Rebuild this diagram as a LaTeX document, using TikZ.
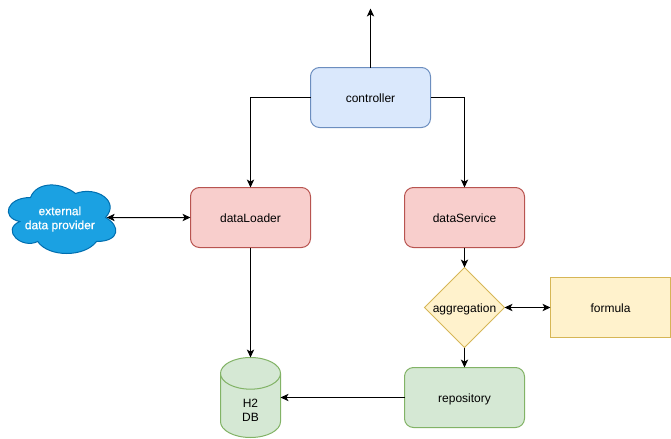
\documentclass[tikz,border=0pt]{standalone}
\usepackage{fontspec}
\setmainfont{Liberation Sans}
\newfontfamily\cloudfont[FakeBold=0.5]{Liberation Sans}
\usetikzlibrary{shapes,positioning,calc,arrows.meta}
\definecolor{bluefill}{HTML}{DAE8FC}
\definecolor{blueline}{HTML}{6C8EBF}
\definecolor{redfill}{HTML}{F8CECC}
\definecolor{redline}{HTML}{B85450}
\definecolor{greenfill}{HTML}{D5E8D4}
\definecolor{greenline}{HTML}{82B366}
\definecolor{yellowfill}{HTML}{FFF2CC}
\definecolor{yellowline}{HTML}{D6B656}
\definecolor{cloudfill}{HTML}{1BA1E2}
\definecolor{cloudline}{HTML}{006EAF}
\tikzset{
  block/.style={rectangle,draw,line width=0.75pt,outer sep=0pt,minimum width=90pt,minimum height=45pt,text height=8pt,text depth=0pt,font=\fontsize{9}{10.5}\selectfont},
  roundblock/.style={block,rounded corners=6.75pt},
  link/.style={draw,line width=0.75pt,-{Stealth[length=6pt,width=5.5pt,inset=1.6pt]}},
  twolink/.style={draw,line width=0.75pt,{Stealth[length=6pt,width=5.5pt,inset=1.6pt]}-{Stealth[length=6pt,width=5.5pt,inset=1.6pt]}},
}
\begin{document}
\begin{tikzpicture}[x=0.75pt,y=-0.75pt]
\useasboundingbox (0,0) rectangle (671,439);
\node[roundblock,draw=blueline,fill=bluefill] (controller) at (370.5,97.5) {controller};
\node[roundblock,draw=redline,fill=redfill,below left=45pt and 0pt of controller] (dataLoader) {dataLoader};
\node[roundblock,draw=redline,fill=redfill,below right=45pt and -19.5pt of controller] (dataService) {dataService};
\node[below=15pt of dataService,diamond,draw=yellowline,fill=yellowfill,line width=0.75pt,outer sep=0pt,inner sep=0pt,minimum width=60pt,minimum height=60pt,text height=8pt,text depth=0pt,font=\fontsize{9}{10.5}\selectfont] (aggregation) {aggregation};
\node[block,draw=yellowline,fill=yellowfill,right=34.5pt of aggregation] (formula) {formula};
\node[roundblock,draw=greenline,fill=greenfill,below=15pt of aggregation] (repository) {repository};
\node[below=82.5pt of dataLoader,cylinder,shape border rotate=90,aspect=1.9,draw=greenline,fill=greenfill,line width=0.75pt,outer sep=0pt,inner sep=0pt,minimum width=45pt,minimum height=60pt,align=center,font=\fontsize{9}{10.5}\selectfont] (db) {\phantom{H2}\\\phantom{DB}};
\node[align=center,font=\fontsize{9}{10.5}\selectfont] (dbtext) at ([yshift=-39.4pt]db.north) {H2\\DB};
% cloud outline
\begin{scope}[shift={(0.5,177.5)},x=0.9pt,y=-0.6pt]
\draw[fill=cloudfill,draw=cloudline,line width=0.75pt] (25,25) .. controls (5,25) and (0,50) .. (16,55) .. controls (0,66) and (18,90) .. (31,80) .. controls (40,100) and (70,100) .. (80,80) .. controls (100,80) and (100,60) .. (87.5,50) .. controls (100,30) and (80,10) .. (62.5,20) .. controls (50,5) and (30,5) .. (25,25) -- cycle;
\coordinate (provider) at (88.5,50);
\node[align=center,text=white,font=\cloudfont\fontsize{9}{10.5}\selectfont] (providertext) at (49.5,52) {external\\data provider};
\end{scope}
\coordinate[above=44.25pt of controller.north] (top);
\draw[link] (controller.north) -- (top);
\draw[link] (controller.west) -| (dataLoader.north);
\draw[link] (controller.east) -| (dataService.north);
\draw[twolink] (provider) -- (dataLoader.west);
\draw[link] (dataLoader.south) -- (db.north);
\draw[link] (dataService.south) -- (aggregation.north);
\draw[twolink] (aggregation.east) -- (formula.west);
\draw[link] (aggregation.south) -- (repository.north);
\draw[link] (repository.west) -- (repository.west -| db.east);
\end{tikzpicture}
\end{document}
